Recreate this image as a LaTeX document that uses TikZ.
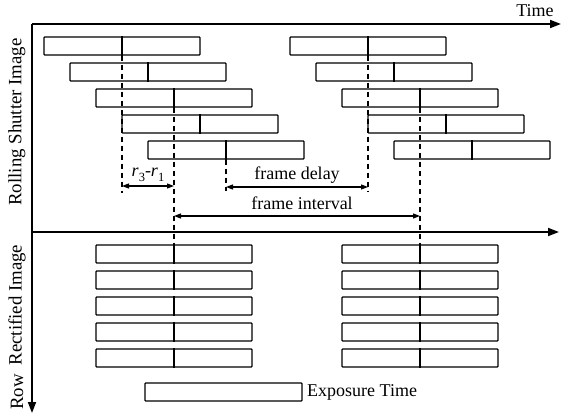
\documentclass[tikz,border=0pt]{standalone}
\usepackage{fontspec}
\setmainfont{Liberation Serif}
\usetikzlibrary{arrows.meta}
\newcommand{\subdig}[1]{\raisebox{-0.28em}{\fontsize{12.5}{12.5}\selectfont #1}}
\begin{document}
\begin{tikzpicture}[x=1pt,y=-1pt,
  expbox/.style={draw, line width=1.3pt, minimum width=156pt, minimum height=18pt, inner sep=0pt, rounded corners=0.8pt},
  divider/.style={line width=1.3pt},
  guide/.style={line width=1.2pt, dash pattern=on 5pt off 4pt},
  axis/.style={line width=1.8pt, -{Triangle[length=11pt,width=8pt]}},
  dim/.style={line width=1.1pt, {Triangle[length=7pt,width=5pt]}-{Triangle[length=7pt,width=5pt]}},
  lbl/.style={font=\fontsize{18}{20}\selectfont, inner sep=0pt},
  vlbl/.style={font=\fontsize{18.8}{20}\selectfont, inner sep=0pt, rotate=90}]
\useasboundingbox (0,0) rectangle (565,415);
% axes
\coordinate (O) at (32,24);
\coordinate (T) at (561,24);
\coordinate (M0) at (32,232);
\coordinate (M1) at (559,232);
\coordinate (B) at (32,413);
\draw[axis] (O) -- (T);
\draw[axis] (O) -- (B);
\draw[axis] (M0) -- (M1);
\node[lbl] (time) at (535,11) {Time};
\node[vlbl] (rsi) at (17,122) {Rolling Shutter Image};
\node[vlbl] (rect) at (17,305) {Rectified Image};
\node[vlbl] (row) at (17,392) {Row};
% exposure rows
\foreach \i in {1,...,5} {
  \node[expbox] (L\i) at ({122+26*(\i-1)},{46+26*(\i-1)}) {};
  \draw[divider] (L\i.north) -- (L\i.south);
  \node[expbox] (R\i) at ({368+26*(\i-1)},{46+26*(\i-1)}) {};
  \draw[divider] (R\i.north) -- (R\i.south);
  \node[expbox] (A\i) at (174,{254+26*(\i-1)}) {};
  \draw[divider] (A\i.north) -- (A\i.south);
  \node[expbox] (C\i) at (420,{254+26*(\i-1)}) {};
  \draw[divider] (C\i.north) -- (C\i.south);
}
% guide lines
\coordinate (g1) at (122,193);
\coordinate (g5) at (226,191);
\coordinate (gr1) at (368,191);
\draw[guide] (L1.south) -- (g1);
\draw[guide] (L3.south) -- (A1.north);
\draw[guide] (L5.south) -- (g5);
\draw[guide] (R1.south) -- (gr1);
\draw[guide] (R3.south) -- (C1.north);
% dimension arrows
\coordinate (p1) at (122,186);
\coordinate (p2) at (174,186);
\coordinate (q1) at (226,187);
\coordinate (q2) at (368,187);
\coordinate (s1) at (174,216);
\coordinate (s2) at (420,216);
\draw[dim] (p1) -- (p2);
\draw[dim] (q1) -- (q2);
\draw[dim] (s1) -- (s2);
\node[lbl] (rr) at (148,175) {\textit{r}\subdig{3}-\textit{r}\subdig{1}};
\node[lbl] (fd) at (297,175) {frame delay};
\node[lbl] (fi) at (302,203) {frame interval};
% legend
\node[expbox, minimum width=157pt] (leg) at (223.5,392) {};
\node[lbl, anchor=west] (legt) at (307,392) {Exposure Time};
\end{tikzpicture}
\end{document}
